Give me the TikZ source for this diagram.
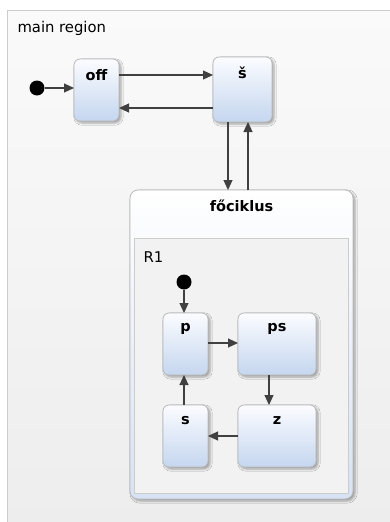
\documentclass[tikz,border=0pt]{standalone}
\usepackage{fontspec}
\setmainfont{DejaVu Sans}
\usetikzlibrary{arrows.meta,shadows.blur,calc}
\definecolor{boxline}{HTML}{B9B9B9}
\definecolor{boxtop}{HTML}{FBFCFF}
\definecolor{boxbottom}{HTML}{C5D6EF}
\definecolor{arrowgray}{HTML}{404040}
\definecolor{regionline}{HTML}{CCCCCC}
\tikzset{
  x=1pt, y=-1pt,
  boxshadow/.style={blur shadow={shadow xshift=2pt, shadow yshift=-2pt,
      shadow blur steps=4, shadow opacity=35}},
  statebox/.style={draw=boxline, line width=0.8pt, rounded corners=6pt,
    top color=boxtop, bottom color=boxbottom, boxshadow,
    inner sep=0pt, outer sep=0pt},
  compbox/.style={draw=boxline, line width=0.8pt, rounded corners=8pt,
    top color=white, bottom color=boxbottom!70, boxshadow,
    inner sep=0pt, outer sep=0pt, minimum width=223pt, minimum height=309pt},
  regionbox/.style={fill=white!95!black, draw=regionline, line width=0.8pt,
    inner sep=0pt, outer sep=0pt, minimum width=214pt, minimum height=255pt},
  narrow/.style={statebox, minimum width=45pt, minimum height=62pt},
  wide/.style={statebox, minimum width=78pt, minimum height=62pt},
  statelabel/.style={font=\bfseries\fontsize{14.5}{16}\selectfont, anchor=center},
  regionlabel/.style={font=\fontsize{14.8}{16}\selectfont, anchor=west},
  trans/.style={draw=arrowgray, line width=1.1pt,
    -{Triangle[length=10pt,width=9pt]}, color=arrowgray},
  initdot/.style={circle, fill=black, inner sep=0pt, minimum size=15pt},
}
\begin{document}
\begin{tikzpicture}
  \useasboundingbox (0,0) rectangle (390,522);
  \fill[white] (0,0) rectangle (390,522);

  % main region
  \path[top color=white!98!black, bottom color=white!93!black]
    (7,10) rectangle (391,523);
  \draw[regionline, line width=1pt] (7,523) -- (7,10) -- (391,10);
  \node[regionlabel] (mainlabel) at (14,28) {main region};

  % top-level states
  \node[initdot] (init) at (37,88) {};
  \node[narrow] (off) at (96.5,90) {};
  \node[statelabel] (offlabel) at (96.5,75) {off};
  \node[statebox, minimum width=59pt, minimum height=65pt] (s) at (242.5,89.5) {};
  \node[statelabel] (slabel) at (242.5,73) {š};

  % composite state with its region
  \node[compbox] (foc) at (241.5,344.5) {};
  \node[statelabel] (foclabel) at (241.5,206) {főciklus};
  \node[regionbox] (r1) at (241.5,365.5) {};
  \node[regionlabel] (r1label) at (140,257) {R1};

  % inner states
  \node[initdot] (init2) at (184,282) {};
  \node[narrow] (p) at (185.5,344) {};
  \node[statelabel] (plabel) at (185.5,329) {p};
  \node[wide] (ps) at (277,344) {};
  \node[statelabel] (pslabel) at (277,329) {ps};
  \node[narrow] (sb) at (185.5,436) {};
  \node[statelabel] (sblabel) at (185.5,421) {s};
  \node[wide] (z) at (277,436) {};
  \node[statelabel] (zlabel) at (277,421) {z};

  % transition attachment points on the box edges
  \coordinate (offout) at ($(off.east)+(0,-15)$);
  \coordinate (sout) at ($(s.west)+(0,18.5)$);
  \coordinate (sdown) at ($(s.south)+(-14.5,0)$);
  \coordinate (sup) at ($(s.south)+(5.5,0)$);
  \coordinate (pout) at ($(p.east)+(0,-1)$);
  \coordinate (psout) at ($(ps.south)+(-8,0)$);
  \coordinate (sbout) at ($(sb.north)+(-1.5,0)$);

  % transitions
  \draw[trans] (init) -- (init -| off.west);
  \draw[trans] (offout) -- (offout -| s.west);
  \draw[trans] (sout) -- (sout -| off.east);
  \draw[trans] (sdown) -- (sdown |- foc.north);
  \draw[trans] (sup |- foc.north) -- (sup);
  \draw[trans] (init2) -- (init2 |- p.north);
  \draw[trans] (pout) -- (pout -| ps.west);
  \draw[trans] (psout) -- (psout |- z.north);
  \draw[trans] (z.west) -- (z.west -| sb.east);
  \draw[trans] (sbout) -- (sbout |- p.south);
\end{tikzpicture}
\end{document}
